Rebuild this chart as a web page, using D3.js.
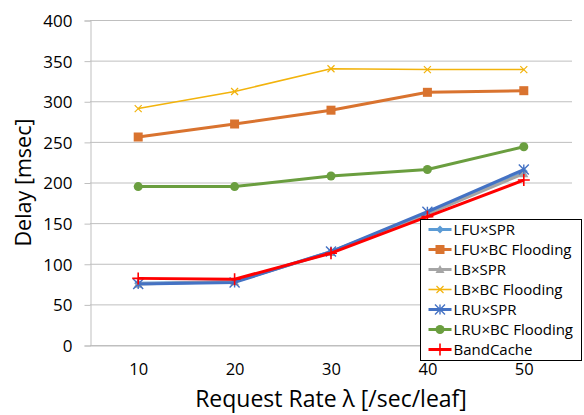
<!DOCTYPE html>
<html>
<head>
<meta charset="utf-8">
<script src="https://cdn.jsdelivr.net/npm/d3@7"></script>
<style>
  html, body { margin: 0; padding: 0; background: #fff; }
  svg { display: block; font-family: "Open Sans", "DejaVu Sans", sans-serif; }
</style>
</head>
<body>
<svg id="chart" width="584" height="415"></svg>
<script>
// Request rates on the x axis
const categories = [10, 20, 30, 40, 50];
const yTicks = [0, 50, 100, 150, 200, 250, 300, 350, 400];

// Delay per scheme [msec]
const lfuSpr    = [76, 78, 115, 162, 214];
const lfuBc     = [256, 272, 289, 311, 313];
const lbSpr     = [75, 78, 114, 161, 211];
const lbBc      = [291, 312, 340, 339, 339];
const lruSpr    = [75, 77, 115, 164, 216];
const lruBc     = [195, 195, 208, 216, 244];
const bandCache = [82, 81, 113, 158, 203];

const seriesNames = ["LFU×SPR", "LFU×BC Flooding", "LB×SPR", "LB×BC Flooding", "LRU×SPR", "LRU×BC Flooding", "BandCache"];
const seriesValues = [lfuSpr, lfuBc, lbSpr, lbBc, lruSpr, lruBc, bandCache];
const seriesColors = ["#5B9BD5", "#D9732F", "#A5A5A5", "#F2B30C", "#4472C4", "#6A9E3F", "#FF0000"];
const seriesMarkers = ["diamond", "square", "triangle", "cross", "asterisk", "circle", "plus"];
const seriesWidths = [3, 3, 3, 1.6, 3, 3, 3];

const series = seriesNames.map((name, i) => ({
  name, values: seriesValues[i], color: seriesColors[i],
  marker: seriesMarkers[i], width: seriesWidths[i]
}));

const svg = d3.select("#chart");
const plot = { left: 90, right: 572, top: 20, bottom: 345 };

const x = d3.scalePoint().domain(categories).range([plot.left, plot.right]).padding(0.5);
const y = d3.scaleLinear().domain([0, 400]).range([plot.bottom, plot.top]);

// Horizontal gridlines
svg.append("g").selectAll("line").data(yTicks).join("line")
  .attr("x1", plot.left).attr("x2", plot.right)
  .attr("y1", d => y(d) + 0.5).attr("y2", d => y(d) + 0.5)
  .attr("stroke", "#BFBFBF").attr("stroke-width", 1);

// Y axis with outside ticks
const yAxis = svg.append("g")
  .attr("transform", `translate(${plot.left + 0.5},0.5)`)
  .call(d3.axisLeft(y).tickValues(yTicks).tickSize(6).tickPadding(12));
yAxis.select(".domain").attr("stroke", "#BFBFBF");
yAxis.selectAll(".tick line").attr("stroke", "#BFBFBF");
yAxis.selectAll(".tick text").attr("font-size", 17).attr("fill", "#000")
  .attr("font-family", "'Open Sans', sans-serif").attr("dy", "0.35em");

// X axis labels (baseline shares the bottom gridline)
const xAxis = svg.append("g")
  .attr("transform", `translate(0,${plot.bottom + 0.5})`)
  .call(d3.axisBottom(x).tickSize(0).tickPadding(18));
xAxis.select(".domain").attr("stroke", "#BFBFBF");
xAxis.selectAll(".tick text").attr("font-size", 16.5).attr("fill", "#000")
  .attr("font-family", "'Open Sans', sans-serif");

// Axis titles
svg.append("text")
  .attr("transform", `translate(31,${(plot.top + plot.bottom) / 2}) rotate(-90)`)
  .attr("text-anchor", "middle").attr("font-size", 21.5).attr("fill", "#000")
  .text("Delay [msec]");
svg.append("text")
  .attr("x", 331).attr("y", 407)
  .attr("text-anchor", "middle").attr("font-size", 23).attr("fill", "#000")
  .text("Request Rate λ [/sec/leaf]");

// Marker drawing
function drawMarker(g, type, color, size) {
  const s = size;
  switch (type) {
    case "diamond":
      g.append("path").attr("d", `M0,${-s}L${s},0L0,${s}L${-s},0Z`).attr("fill", color);
      break;
    case "square":
      g.append("rect").attr("x", -s).attr("y", -s).attr("width", 2 * s).attr("height", 2 * s).attr("fill", color);
      break;
    case "triangle":
      g.append("path").attr("d", `M0,${-s}L${s},${s * 0.8}L${-s},${s * 0.8}Z`).attr("fill", color);
      break;
    case "cross":
      g.append("path").attr("d", `M${-s},${-s}L${s},${s}M${-s},${s}L${s},${-s}`)
        .attr("stroke", color).attr("stroke-width", 1.2).attr("fill", "none");
      break;
    case "asterisk":
      g.append("path").attr("d", `M${-s},${-s}L${s},${s}M${-s},${s}L${s},${-s}M0,${-s}L0,${s}`)
        .attr("stroke", color).attr("stroke-width", 1.4).attr("fill", "none");
      break;
    case "circle":
      g.append("circle").attr("r", s).attr("fill", color);
      break;
    case "plus":
      g.append("path").attr("d", `M${-s},0L${s},0M0,${-s}L0,${s}`)
        .attr("stroke", color).attr("stroke-width", 1.6).attr("fill", "none");
      break;
  }
}
const markerSize = { diamond: 4, square: 4.5, triangle: 4.5, cross: 3.5, asterisk: 5, circle: 4.5, plus: 6 };

const line = d3.line().x((d, i) => x(categories[i])).y(d => y(d));

// Series lines and markers
series.forEach(s => {
  const g = svg.append("g");
  g.append("path").datum(s.values).attr("d", line)
    .attr("fill", "none").attr("stroke", s.color).attr("stroke-width", s.width)
    .attr("stroke-linejoin", "round");
  s.values.forEach((v, i) => {
    const m = g.append("g").attr("transform", `translate(${x(categories[i])},${y(v)})`);
    drawMarker(m, s.marker, s.color, markerSize[s.marker]);
  });
});

// Legend
const legend = svg.append("g").attr("transform", "translate(420.5,219.5)");
legend.append("rect").attr("width", 161).attr("height", 141)
  .attr("fill", "#fff").attr("stroke", "#000").attr("stroke-width", 1);
series.forEach((s, i) => {
  const row = legend.append("g").attr("transform", `translate(0,${10 + i * 20})`);
  row.append("line").attr("x1", 8).attr("x2", 31).attr("y1", 0).attr("y2", 0)
    .attr("stroke", s.color).attr("stroke-width", s.width);
  const m = row.append("g").attr("transform", "translate(19.5,0)");
  drawMarker(m, s.marker, s.color, markerSize[s.marker]);
  row.append("text").attr("x", 33).attr("y", 0).attr("dy", "0.35em")
    .attr("font-size", 15).attr("fill", "#000").text(s.name);
});
</script>
</body>
</html>
